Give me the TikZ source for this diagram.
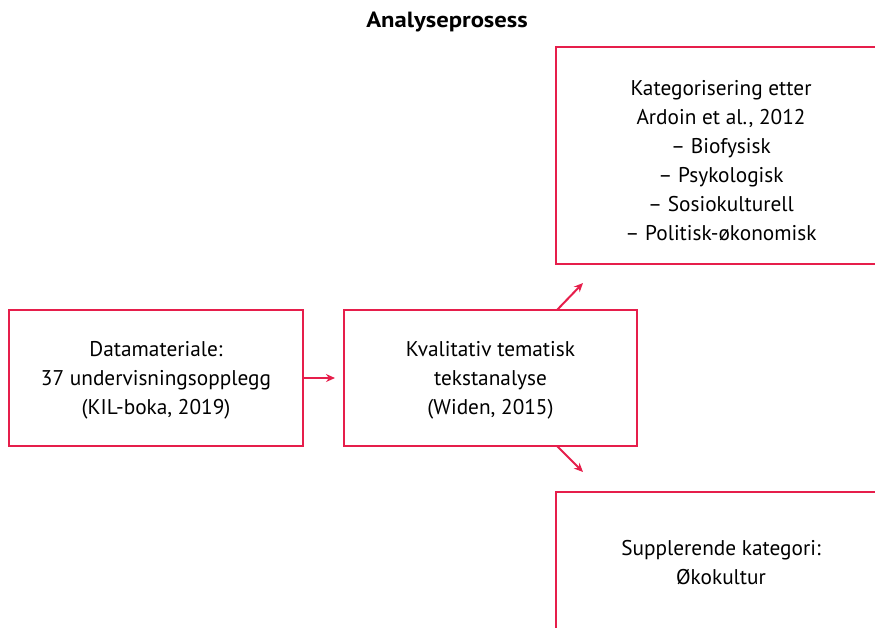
\documentclass[tikz,border=0pt]{standalone}
\usepackage{fontspec}
\setmainfont{PT Sans}
\newfontfamily\titlefont{PT Sans}[FakeStretch=1.12]
\usetikzlibrary{arrows.meta,positioning}
\definecolor{crim}{RGB}{230,30,75}
\tikzset{
  box/.style={draw=crim, line width=2.6pt, fill=white, inner sep=0pt},
  txt/.style={align=center, inner sep=0pt, font=\fontsize{21.3}{29}\selectfont, text=black},
  conn/.style={draw=crim, line width=2pt, -{Stealth[length=9pt,width=8pt]}},
}
\begin{document}
\begin{tikzpicture}[x=1pt,y=-1pt]
\useasboundingbox (0,0) rectangle (875,627);
\clip (0,0) rectangle (875,627);
\node[font=\titlefont\fontsize{22}{24}\selectfont\bfseries] (title) at (447,22) {Analyseprosess};
\node[box, minimum width=294pt, minimum height=136pt] (b1) at (156,378) {};
\node[box, minimum width=293pt, minimum height=136pt] (b2) at (490.5,378) {};
\node[box, minimum width=330pt, minimum height=217pt] (b3) at (721,155.5) {};
\node[box, minimum width=330pt, minimum height=142pt] (b4) at (721,563) {};
\node[txt] (b1t) at ([yshift=-2pt]b1.center)
  {Datamateriale:\\37 undervisningsopplegg\\(KIL-boka, 2019)};
\node[txt] (b2t) at ([yshift=-2pt]b2.center)
  {Kvalitativ tematisk\\tekstanalyse\\(Widen, 2015)};
\node[txt] (b3t) at ([yshift=-5pt]b3.center)
  {Kategorisering etter\\Ardoin et al., 2012\\– Biofysisk\\– Psykologisk\\– Sosiokulturell\\– Politisk-økonomisk};
\node[txt] (b4t) at (b4.center)
  {Supplerende kategori:\\Økokultur};
\coordinate (t1) at (335,378);
\coordinate (s2) at (557,310);
\coordinate (t2) at (583,283);
\coordinate (s3) at (557,446);
\coordinate (t3) at (583,472);
\draw[conn] (b1.east) -- (t1);
\draw[conn] (s2) -- (t2);
\draw[conn] (s3) -- (t3);
\end{tikzpicture}
\end{document}
